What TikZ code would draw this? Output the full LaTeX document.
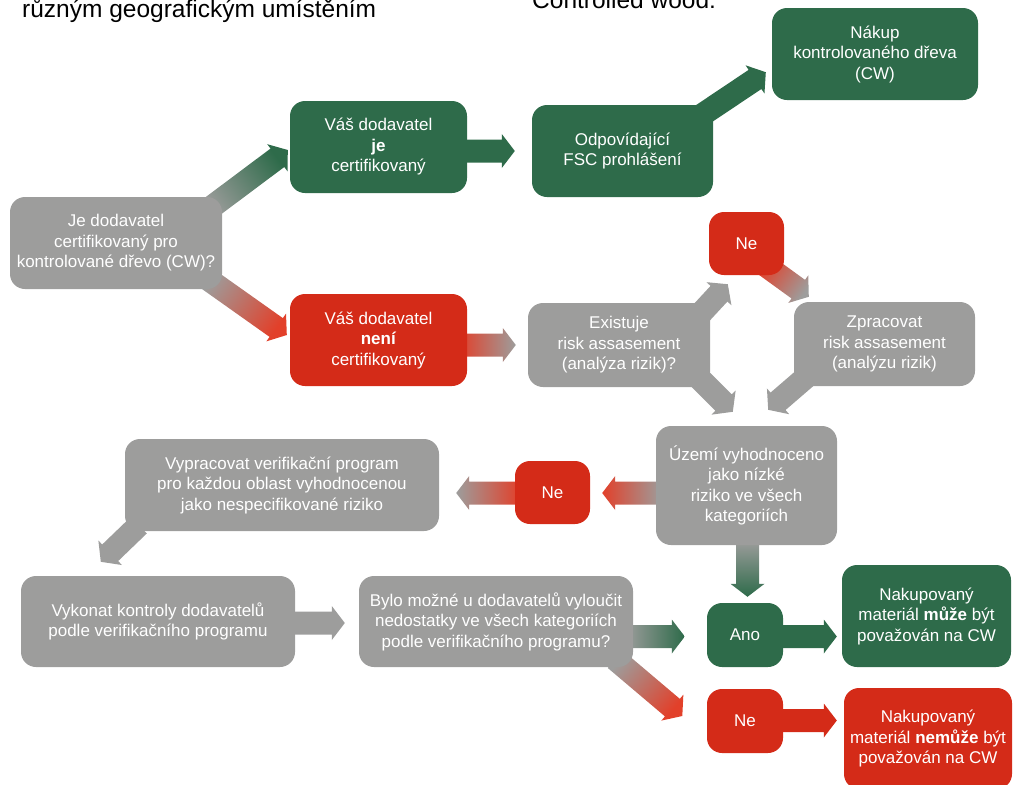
\documentclass[tikz,border=0pt]{standalone}
\usepackage{fontspec}
\setmainfont{Liberation Sans}
\usetikzlibrary{calc,backgrounds}

\definecolor{fscgreen}{RGB}{46,107,74}
\definecolor{fscred}{RGB}{212,43,24}
\definecolor{fscgray}{RGB}{157,157,156}
\definecolor{arrowred}{RGB}{226,64,42}

\tikzset{
  box/.style={rectangle,rounded corners=15pt,text=white,align=center,inner sep=0pt,
    font=\fontsize{17}{20.5}\selectfont},
  greenbox/.style={box,fill=fscgreen},
  redbox/.style={box,fill=fscred},
  graybox/.style={box,fill=fscgray},
  headline/.style={anchor=base west,inner sep=0pt,font=\fontsize{24.5}{29}\selectfont},
  gray2green/.style={left color=fscgray,right color=fscgreen},
  gray2red/.style={left color=fscgray,right color=arrowred},
  red2gray/.style={left color=arrowred,right color=fscgray},
}

% block arrow from tail #2 to tip #3
\newcommand{\blockarrow}[3]{%
  \coordinate(ah) at ($(#3)!13pt!(#2)$);
  \path[#1]($(#2)!11.5pt!90:(#3)$)--($(ah)!11.5pt!-90:(#2)$)--($(ah)!17pt!-90:(#2)$)--(#3)
    --($(ah)!17pt!90:(#2)$)--($(ah)!11.5pt!90:(#2)$)--($(#2)!11.5pt!-90:(#3)$)--cycle;}

\begin{document}
\begin{tikzpicture}[x=1pt,y=-1pt]
\useasboundingbox(0,0)rectangle(1013,785);

\node[headline](title1) at (22,17){různým geografickým umístěním};
\node[headline](title2) at (532,8.5){Controlled wood:};

\node[graybox,minimum width=212pt,minimum height=92pt](q1) at (116,243){Je dodavatel\\certifikovaný pro\\kontrolované dřevo (CW)?};
\node[greenbox,minimum width=177pt,minimum height=92pt](g1) at (378.5,147){Váš dodavatel\\\textbf{je}\\certifikovaný};
\node[redbox,minimum width=177pt,minimum height=92pt](r1) at (378.5,340){Váš dodavatel\\\textbf{není}\\certifikovaný};
\node[greenbox,minimum width=181pt,minimum height=92pt](g2) at (622.5,151){Odpovídající\\FSC prohlášení};
\node[greenbox,minimum width=206pt,minimum height=92pt](g3) at (875,54){Nákup\\kontrolovaného dřeva\\(CW)};
\node[redbox,minimum width=75pt,minimum height=63pt](ne1) at (746.5,243.5){Ne};
\node[graybox,minimum width=182pt,minimum height=84pt](q2) at (619,345){Existuje\\risk assasement\\(analýza rizik)?};
\node[graybox,minimum width=181pt,minimum height=84pt](zp) at (884.5,344){Zpracovat\\risk assasement\\(analýzu rizik)};
\node[graybox,minimum width=181pt,minimum height=119pt](uz) at (746.5,485.5){Území vyhodnoceno\\jako nízké\\riziko ve všech\\kategoriích};
\node[redbox,minimum width=75pt,minimum height=63pt](ne2) at (552.5,492.5){Ne};
\node[graybox,minimum width=314pt,minimum height=92pt](vp) at (282,485){Vypracovat verifikační program\\pro každou oblast vyhodnocenou\\jako nespecifikované riziko};
\node[graybox,minimum width=274pt,minimum height=91pt](vk) at (158,621.5){Vykonat kontroly dodavatelů\\podle verifikačního programu};
\node[graybox,minimum width=274pt,minimum height=91pt](bm) at (496,621.5){Bylo možné u dodavatelů vyloučit\\nedostatky ve všech kategoriích\\podle verifikačního programu?};
\node[greenbox,minimum width=76pt,minimum height=64pt](ano) at (745,635){Ano};
\node[redbox,minimum width=76pt,minimum height=64pt](ne3) at (745,721){Ne};
\node[greenbox,minimum width=169pt,minimum height=102pt](muze) at (926.5,616){Nakupovaný\\materiál \textbf{může} být\\považován na CW};
\node[redbox,minimum width=168pt,minimum height=101pt](nemuze) at (928,738.5){Nakupovaný\\materiál \textbf{nemůže} být\\považován na CW};

\coordinate(s1) at ($(q1.north east)+(-17,15)$);\coordinate(e1) at ($(g1.west)+(-2,3)$);
\coordinate(s2) at ($(q1.south east)+(-17,-12)$);\coordinate(e2) at ($(r1.west)+(-3,-5)$);
\coordinate(s3) at ($(g1.east)+(-8,4)$);\coordinate(e3) at ($(g2.west)+(-17,0)$);
\coordinate(s4) at ($(g2.north east)+(-11,10)$);\coordinate(e4) at ($(g3.south west)+(-6,-28)$);
\coordinate(s5) at ($(r1.east)+(-8,5)$);\coordinate(e5) at ($(q2.west)+(-12,0)$);
\coordinate(s6) at ($(q2.north east)+(-20,22)$);\coordinate(e6) at ($(ne1.south west)+(19,9)$);
\coordinate(s7) at ($(q2.south east)+(-20,-18)$);\coordinate(e7) at ($(uz.north west)+(77,-14)$);
\coordinate(s8) at ($(ne1.south east)+(-19,-10)$);\coordinate(e8) at ($(zp.north west)+(15,-5)$);
\coordinate(s9) at ($(zp.south west)+(18,-14)$);\coordinate(e9) at ($(uz.north east)+(-69,-16)$);
\coordinate(s10) at ($(uz.west)+(6,7.5)$);\coordinate(e10) at ($(ne2.east)+(12,0.5)$);
\coordinate(s11) at ($(ne2.west)+(5,0.5)$);\coordinate(e11) at ($(vp.east)+(17,8)$);
\coordinate(s12) at ($(vp.south west)+(14,-6)$);\coordinate(e12) at ($(vk.north west)+(80,-14)$);
\coordinate(s13) at ($(vk.east)+(-5,1.5)$);\coordinate(e13) at ($(bm.west)+(-14,1.5)$);
\coordinate(s14) at ($(bm.east)+(-8,15)$);\coordinate(e14) at ($(ano.west)+(-22,1.5)$);
\coordinate(s15) at ($(bm.south east)+(-18,-8)$);\coordinate(e15) at ($(ne3.west)+(-24.5,-5)$);
\coordinate(s16) at ($(uz.south)+(1,-5)$);\coordinate(e16) at ($(ano.north)+(2.5,-6)$);
\coordinate(s17) at ($(ano.east)+(-5,1.5)$);\coordinate(e17) at ($(muze.west)+(-5,20.5)$);
\coordinate(s18) at ($(ne3.east)+(-5,-0.5)$);\coordinate(e18) at ($(nemuze.west)+(-7,-18)$);

\begin{scope}[on background layer]
\blockarrow{gray2green,shading angle=126.8}{s1}{e1}
\blockarrow{gray2red,shading angle=54.7}{s2}{e2}
\blockarrow{fill=fscgreen}{s3}{e3}
\blockarrow{fill=fscgreen}{s4}{e4}
\blockarrow{red2gray,shading angle=90}{s5}{e5}
\blockarrow{fill=fscgray}{s6}{e6}
\blockarrow{fill=fscgray}{s7}{e7}
\blockarrow{red2gray,shading angle=54}{s8}{e8}
\blockarrow{fill=fscgray}{s9}{e9}
\blockarrow{gray2red,shading angle=270}{s10}{e10}
\blockarrow{red2gray,shading angle=270}{s11}{e11}
\blockarrow{fill=fscgray}{s12}{e12}
\blockarrow{fill=fscgray}{s13}{e13}
\blockarrow{gray2green,shading angle=90}{s14}{e14}
\blockarrow{gray2red,shading angle=49.8}{s15}{e15}
\blockarrow{gray2green,shading angle=0}{s16}{e16}
\blockarrow{fill=fscgreen}{s17}{e17}
\blockarrow{fill=fscred}{s18}{e18}
\end{scope}
\end{tikzpicture}
\end{document}
